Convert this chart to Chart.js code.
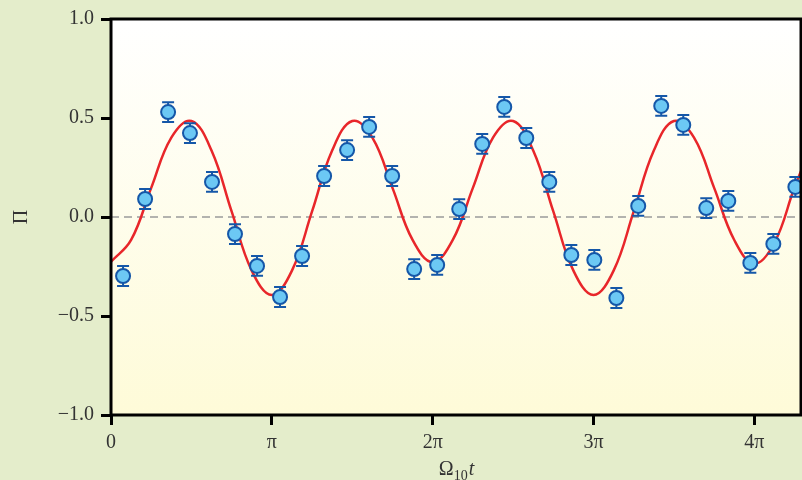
<!DOCTYPE html>
<html>
<head>
<meta charset="utf-8">
<script src="https://cdn.jsdelivr.net/npm/chart.js@4.4.1/dist/chart.umd.min.js"></script>
<style>
  html, body { margin: 0; background: #e4edcb; }
  #wrap { width: 802px; height: 480px; }
</style>
</head>
<body>
<div id="wrap"><canvas id="c" width="802" height="480"></canvas></div>
<script>
// x values are in units of pi
const xTicks = [0, 1, 2, 3, 4];
const xTickLabels = ['0', 'π', '2π', '3π', '4π'];
const yTicks = [-1, -0.5, 0, 0.5, 1];
const yTickLabels = ['−1.0', '−0.5', '0.0', '0.5', '1.0'];
const xMax = 4.29;

// measured points
const dataX = [0.075, 0.212, 0.355, 0.491, 0.628, 0.771, 0.908, 1.051, 1.188, 1.325,
               1.468, 1.605, 1.748, 1.885, 2.028, 2.165, 2.308, 2.445, 2.582, 2.725,
               2.862, 3.005, 3.142, 3.278, 3.421, 3.558, 3.701, 3.838, 3.975, 4.118, 4.255];
const dataY = [-0.298, 0.091, 0.530, 0.424, 0.177, -0.086, -0.247, -0.404, -0.197, 0.207,
               0.338, 0.455, 0.207, -0.263, -0.242, 0.040, 0.369, 0.556, 0.399, 0.177,
               -0.192, -0.217, -0.409, 0.056, 0.561, 0.465, 0.045, 0.081, -0.232, -0.136, 0.152];
const errY = 0.05;

const fitX = [0, 0.125, 0.25, 0.375, 0.5, 0.625, 0.75, 0.875, 1, 1.125, 1.25, 1.375,
              1.5, 1.625, 1.75, 1.875, 2, 2.125, 2.25, 2.375, 2.5, 2.625, 2.75, 2.875,
              3, 3.125, 3.25, 3.375, 3.5, 3.625, 3.75, 3.875, 4, 4.125, 4.25, 4.375];
const fitY = [-0.226, -0.116, 0.147, 0.401, 0.485, 0.336, 0.028, -0.271, -0.394, -0.271, 0.028, 0.336,
              0.485, 0.401, 0.147, -0.116, -0.228, -0.116, 0.147, 0.401, 0.485, 0.336, 0.028, -0.271,
              -0.394, -0.271, 0.028, 0.336, 0.485, 0.401, 0.147, -0.116, -0.236, -0.13, 0.15, 0.401];

const zeroX = [0, xMax];
const zeroY = [0, 0];

const serif = "'Liberation Serif', 'DejaVu Serif', serif";
const ink = '#333';
const markBlue = '#1557a8';

const bgPlugin = {
  id: 'bg',
  beforeDraw(chart) {
    const { ctx, chartArea: a } = chart;
    const g = ctx.createLinearGradient(0, a.top, 0, a.bottom);
    g.addColorStop(0, '#ffffff');
    g.addColorStop(1, '#fefbd8');
    ctx.save();
    ctx.fillStyle = g;
    ctx.fillRect(a.left, a.top, a.right - a.left, a.bottom - a.top);
    ctx.restore();
  }
};

const errPlugin = {
  id: 'errbars',
  beforeDatasetDraw(chart, args) {
    if (args.index !== 0) return;
    const { ctx, scales: { x, y } } = chart;
    ctx.save();
    ctx.strokeStyle = markBlue;
    ctx.lineWidth = 2;
    dataX.forEach((v, i) => {
      const px = x.getPixelForValue(v);
      const top = y.getPixelForValue(dataY[i] + errY);
      const bot = y.getPixelForValue(dataY[i] - errY);
      ctx.beginPath();
      ctx.moveTo(px, top); ctx.lineTo(px, bot);
      ctx.moveTo(px - 6, top); ctx.lineTo(px + 6, top);
      ctx.moveTo(px - 6, bot); ctx.lineTo(px + 6, bot);
      ctx.stroke();
    });
    ctx.restore();
  }
};

const framePlugin = {
  id: 'frame',
  afterDraw(chart) {
    const { ctx, chartArea: a } = chart;
    ctx.save();
    ctx.strokeStyle = '#000';
    ctx.lineWidth = 3;
    ctx.strokeRect(a.left, a.top, a.right - a.left, a.bottom - a.top);

    // x axis title: Omega_10 t
    ctx.fillStyle = ink;
    ctx.textBaseline = 'alphabetic';
    ctx.font = '20px ' + serif;
    const wO = ctx.measureText('Ω').width;
    ctx.font = '14px ' + serif;
    const wS = ctx.measureText('10').width;
    ctx.font = 'italic 20px ' + serif;
    const wT = ctx.measureText('t').width;
    let cx = (a.left + a.right) / 2 - (wO + wS + wT) / 2;
    const base = 475;
    ctx.font = '20px ' + serif;
    ctx.fillText('Ω', cx, base); cx += wO;
    ctx.font = '14px ' + serif;
    ctx.fillText('10', cx, base + 5); cx += wS + 1;
    ctx.font = 'italic 20px ' + serif;
    ctx.fillText('t', cx, base);
    ctx.restore();
  }
};

const pts = dataX.map((v, i) => ({ x: v, y: dataY[i] }));
const fit = fitX.map((v, i) => ({ x: v, y: fitY[i] }));
const zero = zeroX.map((v, i) => ({ x: v, y: zeroY[i] }));

new Chart(document.getElementById('c'), {
  type: 'scatter',
  data: {
    datasets: [
      { data: pts, showLine: false, pointRadius: 7, pointHoverRadius: 7,
        pointBackgroundColor: '#6cc8f4', pointBorderColor: markBlue, pointBorderWidth: 2, clip: false },
      { data: fit, showLine: true, pointRadius: 0, borderColor: '#e8262a', borderWidth: 2.5, tension: 0.4 },
      { data: zero, showLine: true, pointRadius: 0, borderColor: '#9a9a9a', borderWidth: 1.5, borderDash: [8, 5] }
    ]
  },
  options: {
    responsive: false,
    animation: false,
    layout: { autoPadding: false, padding: { top: 19, right: 1, left: 0, bottom: 0 } },
    plugins: { legend: { display: false }, tooltip: { enabled: false } },
    scales: {
      x: {
        type: 'linear', min: 0, max: xMax,
        afterBuildTicks: s => { s.ticks = xTicks.map(v => ({ value: v })); },
        afterFit: s => { s.height = 65; s.paddingLeft = 0; s.paddingRight = 0; },
        border: { display: false },
        grid: { drawOnChartArea: false, drawTicks: true, tickLength: 10, tickWidth: 3, tickColor: '#000' },
        ticks: { padding: 6, color: ink, font: { family: serif, size: 20 }, maxRotation: 0,
                 callback: v => xTickLabels[xTicks.indexOf(v)] }
      },
      y: {
        type: 'linear', min: -1, max: 1,
        afterBuildTicks: s => { s.ticks = yTicks.map(v => ({ value: v })); },
        afterFit: s => { s.width = 111; s.paddingTop = 0; s.paddingBottom = 0; },
        border: { display: false },
        grid: { drawOnChartArea: false, drawTicks: true, tickLength: 10, tickWidth: 3, tickColor: '#000' },
        ticks: { padding: 7, color: ink, font: { family: serif, size: 20 },
                 callback: v => yTickLabels[yTicks.indexOf(v)] },
        title: { display: true, text: 'Π', color: ink, font: { family: serif, size: 20 }, padding: { top: 10, bottom: 0 } }
      }
    }
  },
  plugins: [bgPlugin, errPlugin, framePlugin]
});
</script>
</body>
</html>
